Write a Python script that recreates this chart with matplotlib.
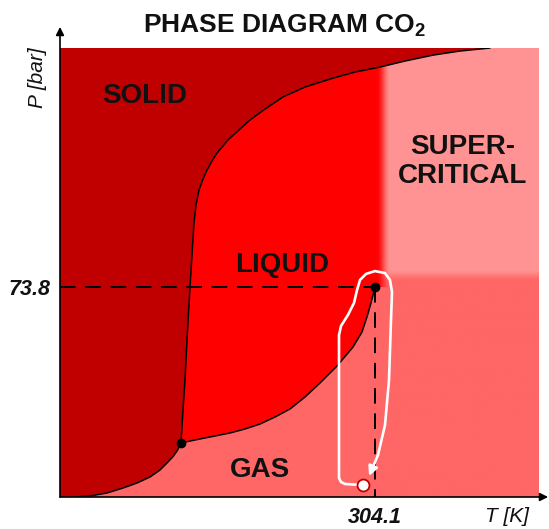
import numpy as np
import matplotlib
matplotlib.use("Agg")
import matplotlib.pyplot as plt
from matplotlib.patches import Polygon
from matplotlib.colors import to_rgb

plt.rcParams['font.family'] = ['Liberation Sans', 'DejaVu Sans']
plt.rcParams['mathtext.fontset'] = 'custom'
plt.rcParams['mathtext.rm'] = 'Liberation Sans'
plt.rcParams['mathtext.bf'] = 'Liberation Sans:bold'
plt.rcParams['mathtext.it'] = 'Liberation Sans:italic'

# ---------------- data ----------------
T_range = (178.1, 369.7)
P_range = (0.0, 157.8)
T_crit, P_crit = 304.1, 73.8
T_triple, P_triple = 226.5, 19.0

x_tick_labels = ["304.1"]
y_tick_labels = ["73.8"]

sub_T = [184.1, 190.1, 196.9, 203.3, 208.9, 214.1, 218.1, 220.9, 223.3, 225.1, 226.5]
sub_P = [0.0, 0.35, 1.41, 3.16, 4.92, 7.03, 9.49, 11.95, 14.2, 16.4, 19.0]

vap_T = [226.5, 234.1, 240.1, 246.1, 252.1, 258.1, 264.1, 270.1, 276.1, 282.1,
         288.9, 295.3, 298.9, 300.9, 302.5, 304.1]
vap_P = [19.0, 20.4, 21.44, 22.5, 23.9, 25.65, 28.11, 30.93, 35.14, 40.06,
         46.04, 52.7, 57.99, 63.3, 68.18, 73.8]

melt_T = [226.5, 227.3, 228.1, 228.9, 230.1, 230.9, 231.7, 232.5, 233.7, 235.3,
          236.9, 238.9, 240.9, 245.3, 250.1, 254.1, 260.1, 267.3, 276.1, 287.3,
          296.1, 306.1, 316.1, 327.3, 338.1, 350.1]
melt_P = [19.0, 30.58, 41.1, 55.2, 73.8, 85.05, 96.3, 102.6, 107.9, 111.75,
          114.9, 118.08, 120.9, 125.5, 129.33, 132.5, 136.35, 140.6, 144.09, 147.2,
          149.36, 151.1, 153.22, 155.3, 156.74, 157.8]

path_T = [299.3, 292.1, 290.5, 289.7, 289.7, 290.5, 293.3, 295.7, 296.9, 298.1,
          300.5, 304.1, 308.1, 310.1, 310.9, 310.5, 309.7, 308.1, 305.3]
path_P = [4.2, 4.57, 5.27, 6.68, 56.9, 60.1, 64.0, 68.2, 72.7, 76.26,
          78.4, 79.4, 78.7, 76.26, 72.04, 62.2, 41.1, 25.3, 14.76]
arrow_tip = (301.7, 7.38)
state_point = (299.3, 4.2)

labels = ["SOLID", "LIQUID", "GAS", "SUPER-\nCRITICAL"]
label_T = [212.1, 266.9, 258.1, 339.3]
label_P = [138.5, 79.07, 7.03, 110.35]

# ---------------- colours ----------------
c_solid = "#C00000"
c_liquid = "#FF0000"
c_gas = "#FF6666"
c_super = "#FF9393"

fig = plt.figure(figsize=(5.49, 5.29), dpi=100)
ax = fig.add_axes([60/549, 32/529, 479/549, 449/529])
ax.set_xlim(*T_range)
ax.set_ylim(*P_range)
ax.set_facecolor(c_gas)
for s in ax.spines.values():
    s.set_visible(False)

# supercritical (vertical gradient gas -> super above Pc)
ny = 800
Pv = np.linspace(P_range[0], P_range[1], ny)
w = np.clip((Pv - 75.9) / (80.1 - 75.9), 0, 1)
w = w * w * (3 - 2 * w)
g = np.array(to_rgb(c_gas)); s_ = np.array(to_rgb(c_super))
img = (1 - w)[:, None] * g + w[:, None] * s_
img = img[:, None, :]
ax.imshow(img, extent=[T_crit - 4, T_range[1], P_range[0], P_range[1]],
          origin='lower', aspect='auto', interpolation='bilinear', zorder=1)

# liquid with fading right edge
nx = 1200
Tv = np.linspace(T_range[0], T_range[1], nx)
a = np.clip((310.1 - Tv) / (310.1 - 304.9), 0, 1)
a = a * a * (3 - 2 * a)
limg = np.zeros((1, nx, 4))
limg[..., :3] = to_rgb(c_liquid)
limg[0, :, 3] = a
liq_verts = list(zip(vap_T, vap_P)) + [(T_crit + 8, P_crit), (T_crit + 8, P_range[1]),
                                        (T_triple, P_range[1])]
liq_poly = Polygon(liq_verts, closed=True, transform=ax.transData, facecolor='none', edgecolor='none')
ax.add_patch(liq_poly)
im = ax.imshow(limg, extent=[T_range[0], T_range[1], P_range[0], P_range[1]],
               origin='lower', aspect='auto', interpolation='bilinear', zorder=2)
im.set_clip_path(liq_poly)

# solid
solid_verts = ([(T_range[0], P_range[0]), (T_range[0], P_range[1])]
               + list(zip(melt_T[::-1], melt_P[::-1]))
               + list(zip(sub_T[::-1], sub_P[::-1]))[1:])
ax.add_patch(Polygon(solid_verts, closed=True, facecolor=c_solid, edgecolor='none', zorder=3))

# phase boundaries
for xs, ys in [(sub_T, sub_P), (vap_T, vap_P), (melt_T, melt_P)]:
    ax.plot(xs, ys, color='black', lw=1.1, zorder=4, solid_capstyle='round',
            solid_joinstyle='round')

# dashed critical lines
ax.plot([T_range[0], T_crit], [P_crit, P_crit], color='black', lw=1.4,
        ls=(0, (8, 5)), zorder=5)
ax.plot([T_crit, T_crit], [P_crit, P_range[0]], color='black', lw=1.4,
        ls=(0, (8, 5)), zorder=5)

# triple & critical points
ax.plot([T_triple, T_crit], [P_triple, P_crit], 'o', color='black', ms=6, zorder=6)

# process path
ax.plot(path_T, path_P, color='white', lw=1.9, zorder=7, solid_joinstyle='round')
ax.annotate('', xy=arrow_tip, xytext=(path_T[-1], path_P[-1]),
            arrowprops=dict(arrowstyle='-|>', color='white', lw=1.9,
                            mutation_scale=14, shrinkA=0, shrinkB=0), zorder=7)
ax.plot(*state_point, 'o', ms=8.6, markerfacecolor='white', markeredgecolor=c_solid,
        markeredgewidth=1.3, zorder=8)

# region labels
for t, x, y in zip(labels, label_T, label_P):
    ax.text(x, y, t, ha='center', va='baseline', fontsize=20, fontweight='bold',
            color='#111111', zorder=9, linespacing=1.15)

# ticks
ax.set_xticks([T_crit])
ax.set_xticklabels(x_tick_labels, fontsize=15.5, fontweight='bold', fontstyle='italic')
ax.set_yticks([P_crit])
ax.set_yticklabels(y_tick_labels, fontsize=15.5, fontweight='bold', fontstyle='italic')
ax.tick_params(length=0, pad=7, colors='#111111')

# axes arrows
ax.annotate('', xy=(0, 1.047), xycoords='axes fraction', xytext=(0, 0),
            arrowprops=dict(arrowstyle='-|>', color='black', lw=1.2,
                            mutation_scale=12, shrinkA=0, shrinkB=0), zorder=10)
ax.annotate('', xy=(1.019, 0), xycoords='axes fraction', xytext=(0, 0),
            arrowprops=dict(arrowstyle='-|>', color='black', lw=1.2,
                            mutation_scale=12, shrinkA=0, shrinkB=0), zorder=10)

ax.text(0.934, -0.0445, "T [K]", transform=ax.transAxes, ha='center', va='center',
        fontsize=15, fontstyle='italic', color='#111111')
ax.text(-0.046, 0.933, "P [bar]", transform=ax.transAxes, ha='center', va='center',
        fontsize=15, fontstyle='italic', rotation=90, color='#111111')

fig.text(284/549, (529-33)/529, r"PHASE DIAGRAM CO$_\mathbf{2}$", ha='center',
         va='baseline', fontsize=19, fontweight='bold', color='#111111')

fig.savefig("out.png", dpi=100)
